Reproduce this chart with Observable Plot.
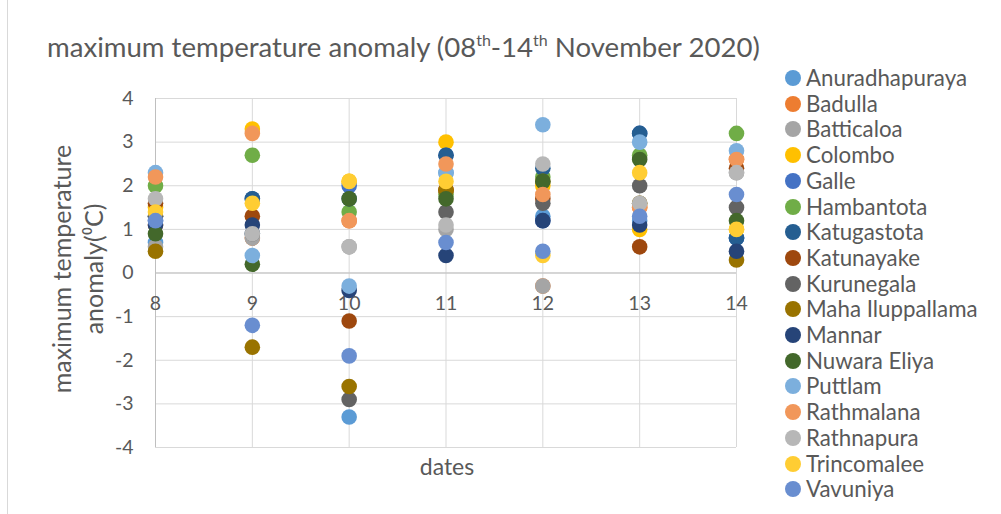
<!DOCTYPE html>
<html><head><meta charset="utf-8">
<script src="https://cdn.jsdelivr.net/npm/d3@7"></script>
<script src="https://cdn.jsdelivr.net/npm/@observablehq/plot@0.6"></script>
<style>
body{margin:0;background:#fff;font-family:Lato,"Open Sans",sans-serif;}
#wrap{position:relative;width:1001px;height:514px;overflow:hidden;background:#fff;}
#frame{position:absolute;left:7px;top:-1px;width:1100px;height:516px;border:1px solid #d9d9d9;box-sizing:border-box;}
#title{position:absolute;left:47px;top:30px;font-size:27.6px;color:#595959;white-space:nowrap;}
#title sup{font-size:16px;vertical-align:11px;line-height:0;}
#chart{position:absolute;left:0;top:0;}
#ylab{position:absolute;left:77px;top:269px;width:0;height:0;}
#ylab div{position:absolute;transform:translate(-50%,-50%) rotate(-90deg);white-space:nowrap;font-size:25px;color:#595959;text-align:center;line-height:32px;}
#xlab{position:absolute;left:447px;top:466px;transform:translate(-50%,-50%);font-size:23px;color:#595959;}
#legend{position:absolute;left:785px;top:0;}
.li{position:absolute;left:0;height:26px;white-space:nowrap;font-size:22.3px;color:#595959;}
.li span.m{position:absolute;left:0;top:5px;width:16px;height:16px;border-radius:50%;}
.li span.t{position:absolute;left:21px;top:0;line-height:26px;}
</style></head>
<body>
<div id="wrap">
  <div id="frame"></div>
  <div id="title">maximum temperature anomaly (08<sup>th</sup>-14<sup>th</sup> November 2020)</div>
  <div id="chart"></div>
  <div id="ylab"><div>maximum temperature<br>anomaly(⁰C)</div></div>
  <div id="xlab">dates</div>
  <div id="legend"></div>
</div>
<script>
const dates = [8, 9, 10, 11, 12, 13, 14];
const yTicks = [-4, -3, -2, -1, 0, 1, 2, 3, 4];
const stations = ["Anuradhapuraya","Badulla","Batticaloa","Colombo","Galle","Hambantota","Katugastota","Katunayake","Kurunegala","Maha Iluppallama","Mannar","Nuwara Eliya","Puttlam","Rathmalana","Rathnapura","Trincomalee","Vavuniya"];
const colors = ["#5B9BD5","#ED7D31","#A5A5A5","#FFC000","#4472C4","#70AD47","#255E91","#9E480E","#636363","#997300","#264478","#43682B","#7CAFDD","#F1975A","#B7B7B7","#FFCD33","#698ED0"];

const anuradhapuraya  = [0.7, 0.9, -3.3, 2.3, 1.3, 1.2, 0.8];
const badulla         = [1.1, 0.8, 1.2, 1.9, -0.3, 1.5, 2.6];
const batticaloa      = [0.6, 0.8, 0.6, 1.0, -0.3, 1.6, 2.3];
const colombo         = [1.5, 3.3, 2.1, 3.0, 2.0, 1.0, 1.0];
const galle           = [1.2, 1.7, 2.0, 2.7, 1.2, 3.2, 0.8];
const hambantota      = [2.0, 2.7, 1.4, 1.8, 2.2, 2.7, 3.2];
const katugastota     = [1.3, 1.7, 1.7, 2.7, 2.4, 3.2, 0.8];
const katunayake      = [1.6, 1.3, -1.1, 1.9, 1.7, 0.6, 2.4];
const kurunegala      = [1.3, 0.9, -2.9, 1.4, 1.6, 2.0, 1.5];
const mahaIluppallama = [0.5, -1.7, -2.6, 1.9, 2.1, 1.6, 0.3];
const mannar          = [1.1, 1.1, -0.4, 0.4, 1.2, 1.1, 0.5];
const nuwaraEliya     = [0.9, 0.2, 1.7, 1.7, 2.1, 2.6, 1.2];
const puttlam         = [2.3, 0.4, -0.3, 2.3, 3.4, 3.0, 2.8];
const rathmalana      = [2.2, 3.2, 1.2, 2.5, 1.8, 1.5, 2.6];
const rathnapura      = [1.7, 0.9, 0.6, 1.1, 2.5, 1.6, 2.3];
const trincomalee     = [1.4, 1.6, 2.1, 2.1, 0.4, 2.3, 1.0];
const vavuniya        = [1.2, -1.2, -1.9, 0.7, 0.5, 1.3, 1.8];

const series = [anuradhapuraya, badulla, batticaloa, colombo, galle, hambantota, katugastota, katunayake, kurunegala, mahaIluppallama, mannar, nuwaraEliya, puttlam, rathmalana, rathnapura, trincomalee, vavuniya];

const rows = [];
series.forEach((vals, i) => vals.forEach((v, j) => rows.push({station: stations[i], date: dates[j], value: v})));

const chart = Plot.plot({
  width: 780, height: 514,
  marginLeft: 155, marginRight: 44, marginTop: 98, marginBottom: 67,
  style: {fontFamily: "Lato, 'Open Sans', sans-serif", fontSize: "19.5px", color: "#595959", background: "transparent", overflow: "visible"},
  x: {domain: [8, 14], axis: null},
  y: {domain: [-4, 4], axis: null},
  color: {domain: stations, range: colors},
  marks: [
    Plot.gridY(yTicks, {stroke: "#d9d9d9", strokeOpacity: 1}),
    Plot.gridX(dates, {stroke: "#d9d9d9", strokeOpacity: 1}),
    Plot.ruleY([0], {stroke: "#bfbfbf"}),
    Plot.ruleX([8], {stroke: "#bfbfbf"}),
    Plot.axisY(yTicks, {tickSize: 0, tickPadding: 22, label: null, fontSize: 19.5, fill: "#595959", tickFormat: d => String(d)}),
    Plot.text(dates, {x: d => d, y: 0, dy: 31, text: d => String(d), fontSize: 19.5, fill: "#595959"}),
    Plot.dot(rows, {x: "date", y: "value", fill: "station", r: 7.8})
  ]
});
document.getElementById("chart").appendChild(chart);

const legend = document.getElementById("legend");
stations.forEach((s, i) => {
  const d = document.createElement("div");
  d.className = "li";
  d.style.top = (65 + i * 25.7) + "px";
  d.innerHTML = `<span class="m" style="background:${colors[i]}"></span><span class="t">${s}</span>`;
  legend.appendChild(d);
});
</script>
</body></html>
